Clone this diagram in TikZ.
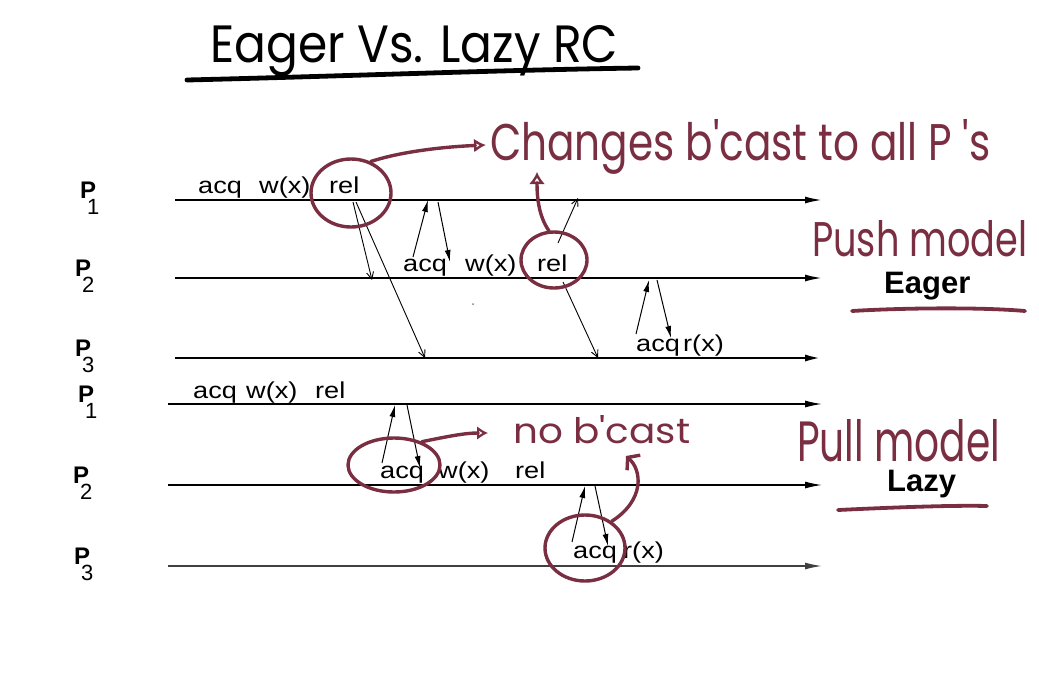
\documentclass[tikz,border=0pt]{standalone}
\usepackage{fontspec}
\usepackage{graphicx}
\setmainfont{Liberation Sans}
\newfontfamily\handfont{Poppins}
\usetikzlibrary{arrows.meta,shapes.geometric}
\definecolor{ink}{RGB}{122,46,66}
\newcommand{\dgtxt}[1]{\scalebox{1.18}[1]{\fontsize{23}{23}\selectfont #1}}
\newcommand{\hw}[3]{\resizebox{#1}{#2}{\handfont #3}}
\newcommand{\plab}[1]{{\fontsize{24}{24}\selectfont\bfseries P}\kern-9pt\raisebox{-16pt}{\fontsize{22}{22}\selectfont #1}}
\tikzset{
  word/.style={inner sep=0pt, anchor=base west},
  hand/.style={inner sep=0pt, anchor=base west, text=ink},
  proc/.style={line width=1.8pt, -{Latex[length=17pt,width=7pt]}},
  msgf/.style={line width=1pt, -{Latex[length=12pt,width=6pt]}},
  msgb/.style={line width=0.9pt, -{Straight Barb[length=7pt,width=7pt]}},
  ring/.style={ellipse, draw=ink, line width=3.4pt, inner sep=0pt},
  harrow/.style={draw=ink, line width=3.4pt, line cap=round},
  uline/.style={line width=3.8pt, line cap=round}
}
\begin{document}
\begin{tikzpicture}[x=1pt,y=-1pt]
\useasboundingbox (0,0) rectangle (1039,673);
% title
\node[hand, text=black] (title) at (210,62) {\hw{408pt}{37pt}{Eager Vs. Lazy RC}};
\coordinate (tu1) at (187,80); \coordinate (tu2) at (638,68);
\draw[uline, line width=4.8pt] (tu1) .. controls (350,76) and (500,70) .. (tu2);

% ---------- Eager ----------
\node[word] (pe1) at (80,198) {\plab{1}};
\node[word] (pe2) at (75,276) {\plab{2}};
\node[word] (pe3) at (75,356) {\plab{3}};
\coordinate (e1a) at (175,200); \coordinate (e1b) at (822,200);
\coordinate (e2a) at (175,278); \coordinate (e2b) at (822,278);
\coordinate (e3a) at (175,358); \coordinate (e3b) at (822,358);
\draw[proc] (e1a) -- (e1b);
\draw[proc] (e2a) -- (e2b);
\draw[proc, line width=2.6pt] (e3a) -- (e3b);

\node[word] (ea1) at (198,193) {\dgtxt{acq}};
\node[word] (ew1) at (259,193) {\dgtxt{w(x)}};
\node[word] (er1) at (329,193) {\dgtxt{rel}};
\node[word] (ea2) at (403,271) {\dgtxt{acq}};
\node[word] (ew2) at (465,271) {\dgtxt{w(x)}};
\node[word] (er2) at (537,271) {\dgtxt{rel}};
\node[word] (ea3) at (636,351) {\dgtxt{acq}};
\node[word] (ex3) at (683,351) {\dgtxt{r(x)}};

\coordinate (m1s) at (353,202); \coordinate (m1e) at (372,280);
\coordinate (m2s) at (356,202); \coordinate (m2e) at (425,358);
\coordinate (m3s) at (413,257); \coordinate (m3e) at (428,200);
\coordinate (m4s) at (438,202); \coordinate (m4e) at (450,262);
\coordinate (m5s) at (558,243); \coordinate (m5e) at (578,198);
\coordinate (m6s) at (563,282); \coordinate (m6e) at (598,358);
\coordinate (m7s) at (636,334); \coordinate (m7e) at (649,280);
\coordinate (m8s) at (657,280); \coordinate (m8e) at (671,338);
\draw[msgb] (m1s) -- (m1e);
\draw[msgb] (m2s) -- (m2e);
\draw[msgf] (m3s) -- (m3e);
\draw[msgf] (m4s) -- (m4e);
\draw[msgb] (m5s) -- (m5e);
\draw[msgb] (m6s) -- (m6e);
\draw[msgf] (m7s) -- (m7e);
\draw[msgf] (m8s) -- (m8e);
\fill[gray] (473,304) circle (1);

\node[word] (eager) at (884,293) {\fontsize{31}{31}\selectfont\bfseries Eager};
\node[hand] (push) at (812,256) {\hw{215pt}{36pt}{Push model}};
\coordinate (eu1) at (852,311); \coordinate (eu2) at (1025,311);
\draw[uline, draw=ink] (eu1) .. controls (900,308) and (980,307) .. (eu2);

\node[hand] (chg) at (490,160) {\hw{500pt}{41pt}{Changes b'cast to all P 's}};
\node[ring, minimum width=80pt, minimum height=68pt] (c1) at (351,193) {};
\node[ring, minimum width=66pt, minimum height=56pt] (c2) at (554,260) {};
\coordinate (a1tip) at (486,145);
\coordinate (a2tip) at (537,172);
\draw[harrow, -{Latex[open,length=12pt,width=14pt]}] (c1.58) .. controls (400,152) and (440,147) .. (a1tip);
\draw[harrow, -{Latex[open,length=12pt,width=16pt]}] (c2.100) .. controls (538,215) and (537,195) .. (a2tip);

% ---------- Lazy ----------
\node[word] (pl1) at (78,402) {\plab{1}};
\node[word] (pl2) at (73,483) {\plab{2}};
\node[word] (pl3) at (74,564) {\plab{3}};
\coordinate (l1a) at (168,404); \coordinate (l1b) at (822,404);
\coordinate (l2a) at (168,485); \coordinate (l2b) at (822,485);
\coordinate (l3a) at (168,566); \coordinate (l3b) at (822,566);
\draw[proc, line width=1.3pt] (l1a) -- (l1b);
\draw[proc, line width=1.3pt] (l2a) -- (l2b);
\draw[proc, line width=1.5pt, draw=black!75] (l3a) -- (l3b);

\node[word] (la1) at (193,398) {\dgtxt{acq}};
\node[word] (lw1) at (246,398) {\dgtxt{w(x)}};
\node[word] (lr1) at (315,398) {\dgtxt{rel}};
\node[word] (la2) at (380,478) {\dgtxt{acq}};
\node[word] (lw2) at (438,478) {\dgtxt{w(x)}};
\node[word] (lr2) at (515,478) {\dgtxt{rel}};
\node[word] (la3) at (573,558) {\dgtxt{acq}};
\node[word] (lx3) at (623,558) {\dgtxt{r(x)}};

\coordinate (n1s) at (382,463); \coordinate (n1e) at (395,405);
\coordinate (n2s) at (407,405); \coordinate (n2e) at (420,468);
\coordinate (n3s) at (572,542); \coordinate (n3e) at (585,486);
\coordinate (n4s) at (595,486); \coordinate (n4e) at (608,546);
\draw[msgf] (n1s) -- (n1e);
\draw[msgf] (n2s) -- (n2e);
\draw[msgf] (n3s) -- (n3e);
\draw[msgf] (n4s) -- (n4e);

\node[word] (lazy) at (887,491) {\fontsize{31}{31}\selectfont\bfseries Lazy};
\node[hand] (pull) at (797,461) {\hw{203pt}{42pt}{Pull model}};
\coordinate (lu1) at (838,510); \coordinate (lu2) at (987,506);
\draw[uline, draw=ink] (lu1) .. controls (880,508) and (950,505) .. (lu2);

\node[hand] (nob) at (513,443) {\hw{177pt}{28pt}{no b'cast}};
\node[ring, minimum width=92pt, minimum height=54pt] (c3) at (394,465) {};
\node[ring, minimum width=80pt, minimum height=66pt] (c4) at (585,548) {};
\coordinate (a3tip) at (488,433);
\coordinate (a4tip) at (626,456);
\draw[harrow, -{Latex[open,length=11pt,width=14pt]}] (c3.40) .. controls (450,436) and (465,433) .. (a3tip);
\draw[harrow, -{Straight Barb[length=8pt,width=20pt]}] (c4.45) .. controls (645,500) and (642,470) .. (a4tip);
\end{tikzpicture}
\end{document}
